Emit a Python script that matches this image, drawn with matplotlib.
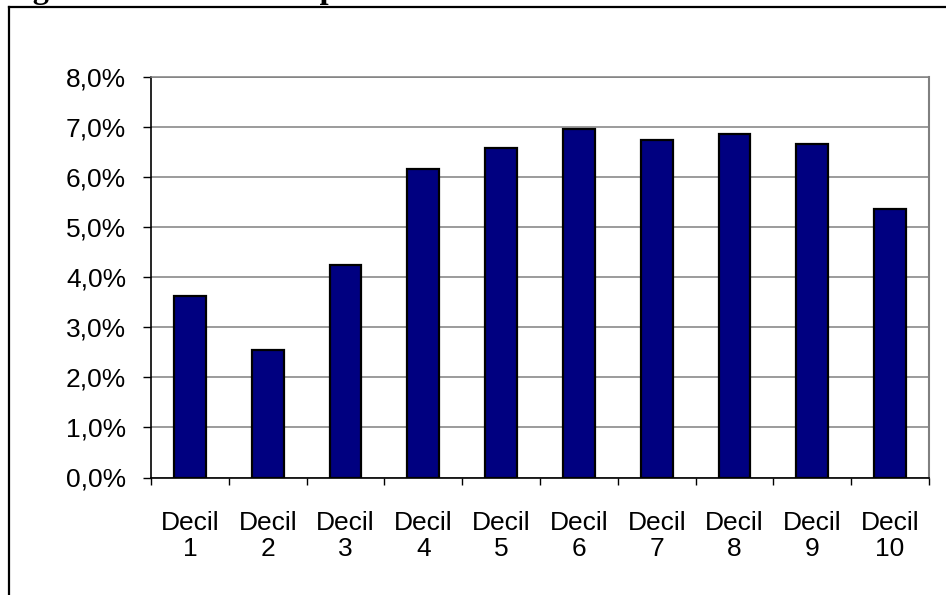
import matplotlib
matplotlib.use("Agg")
import matplotlib.pyplot as plt
from matplotlib.lines import Line2D

categories = ["Decil\n1", "Decil\n2", "Decil\n3", "Decil\n4", "Decil\n5",
              "Decil\n6", "Decil\n7", "Decil\n8", "Decil\n9", "Decil\n10"]
values = [3.62, 2.54, 4.24, 6.15, 6.57, 6.95, 6.74, 6.85, 6.66, 5.36]
yticks = [0, 1, 2, 3, 4, 5, 6, 7, 8]
ytick_labels = ["0,0%", "1,0%", "2,0%", "3,0%", "4,0%", "5,0%", "6,0%", "7,0%", "8,0%"]
title_text = "Figura 3: Crecimiento promedio anual"

W, H = 946, 595
fig = plt.figure(figsize=(W / 100, H / 100), dpi=100)
fig.patch.set_facecolor("white")

ax = fig.add_axes([151 / W, (H - 477.5) / H, 778 / W, 400.8 / H])
x = list(range(len(values)))
ax.bar(x, values, width=0.41, color="#000080", edgecolor="black", linewidth=1.6, zorder=3)

ax.set_xlim(-0.5, len(values) - 0.5)
ax.set_ylim(0, 8)
ax.set_yticks(yticks)
ax.set_yticklabels(ytick_labels)
ax.set_xticks([i - 0.5 for i in range(len(values) + 1)])
ax.set_xticklabels([])
ax.set_xticks(x, minor=True)
ax.set_xticklabels(categories, minor=True)

font = "Liberation Sans"
for lab in ax.get_yticklabels() + ax.get_xticklabels(minor=True):
    lab.set_fontfamily(font)
    lab.set_fontsize(19)
for lab in ax.get_xticklabels(minor=True):
    lab.set_linespacing(1.13)

ax.tick_params(axis="y", direction="out", length=6, width=1, color="black", pad=12)
ax.tick_params(axis="x", which="major", direction="out", length=5, width=1, color="black")
ax.tick_params(axis="x", which="minor", length=0, pad=24)

ax.yaxis.grid(True, color="#808080", linewidth=1.1, zorder=0)
ax.set_axisbelow(True)
ax.spines["left"].set_color("black")
ax.spines["left"].set_linewidth(1.2)
ax.spines["bottom"].set_color("black")
ax.spines["bottom"].set_linewidth(1.2)
ax.spines["top"].set_color("#808080")
ax.spines["top"].set_linewidth(1.1)
ax.spines["right"].set_color("#808080")
ax.spines["right"].set_linewidth(1.5)

# outer frame (extends beyond right/bottom edge)
fig.add_artist(Line2D([8.5 / W, 8.5 / W], [0, 1 - 6.5 / H], color="black", linewidth=1.6,
                      transform=fig.transFigure))
fig.add_artist(Line2D([8.5 / W, 1], [1 - 6.5 / H, 1 - 6.5 / H], color="black", linewidth=1.6,
                      transform=fig.transFigure))

# clipped title above the image (only descenders visible, as in the reference)
fig.text(4 / W, 1 + 2.0 / H, title_text, fontfamily="Liberation Serif", fontweight="bold",
         fontsize=23.3, va="baseline", ha="left")

fig.savefig("out.png", dpi=100)
